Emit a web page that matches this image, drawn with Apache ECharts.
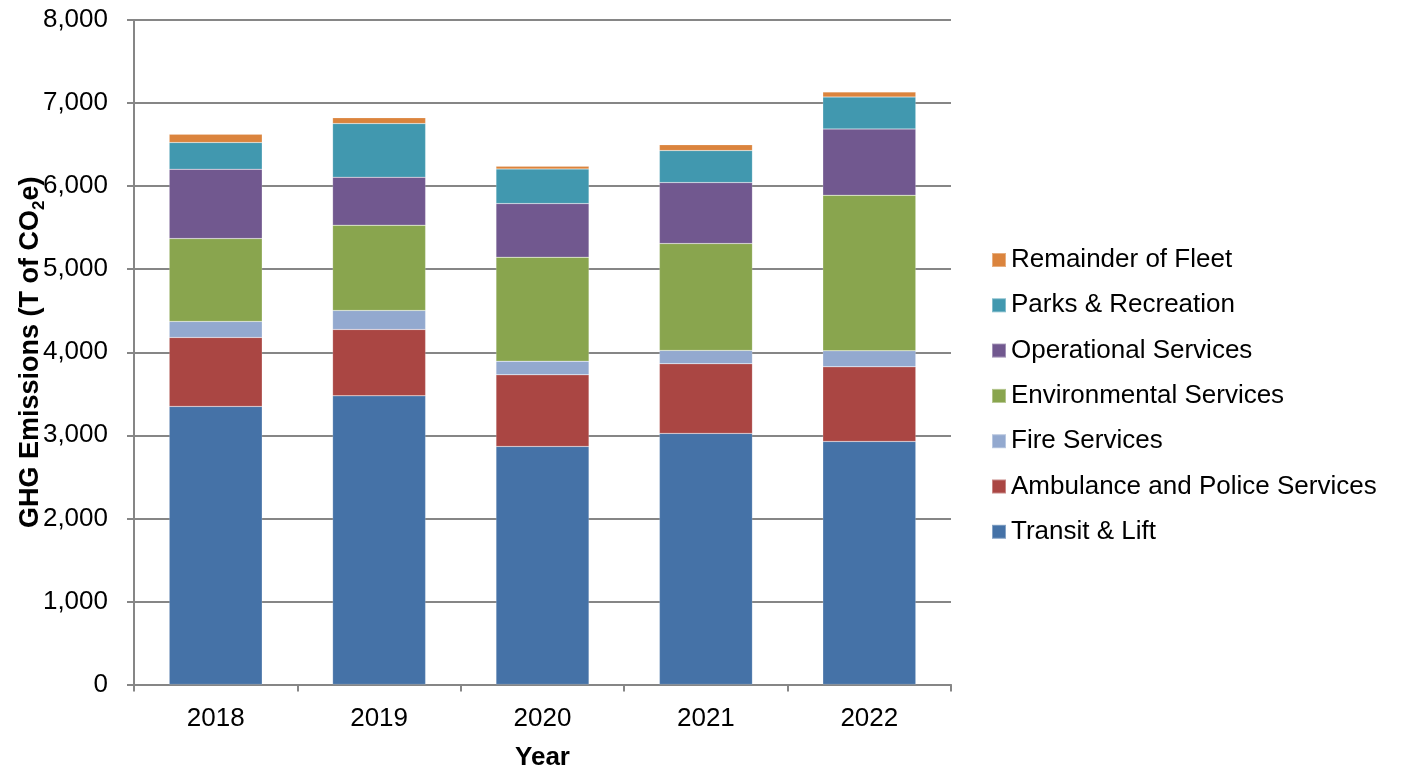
<!DOCTYPE html>
<html>
<head>
<meta charset="utf-8">
<script src="https://cdn.jsdelivr.net/npm/echarts@6/dist/echarts.min.js"></script>
<style>
  html, body { margin: 0; padding: 0; background: #ffffff; }
  #chart { width: 1406px; height: 771px; }
</style>
</head>
<body>
<div id="chart"></div>
<script>
// Fleet GHG emissions by service area, tonnes CO2e
const years = ['2018', '2019', '2020', '2021', '2022'];
const transitLift        = [3348, 3475, 2866, 3023, 2926];
const ambulancePolice    = [830, 799, 862, 838, 898];
const fireServices       = [193, 229, 165, 161, 193];
const environmental      = [998, 1027, 1251, 1287, 1873];
const operational        = [834, 577, 646, 734, 798];
const parksRecreation    = [322, 646, 417, 385, 385];
const remainderOfFleet   = [100, 70, 32, 70, 61];
const yTicks = { min: 0, max: 8000, interval: 1000 };

const seriesDefs = [
  { name: 'Transit & Lift', data: transitLift, color: '#4572A7' },
  { name: 'Ambulance and Police Services', data: ambulancePolice, color: '#AA4643' },
  { name: 'Fire Services', data: fireServices, color: '#93A9CF' },
  { name: 'Environmental Services', data: environmental, color: '#89A54E' },
  { name: 'Operational Services', data: operational, color: '#71588F' },
  { name: 'Parks & Recreation', data: parksRecreation, color: '#4198AF' },
  { name: 'Remainder of Fleet', data: remainderOfFleet, color: '#DB843D' }
];

const FONT = "'Liberation Sans', Arial, sans-serif";
const GRID_COLOR = '#868686';

const chart = echarts.init(document.getElementById('chart'), null, { renderer: 'canvas' });

chart.setOption({
  animation: false,
  backgroundColor: '#ffffff',
  textStyle: { fontFamily: FONT, color: '#000000' },
  grid: {
    left: 134, right: 455, top: 20, bottom: 86.5,
    containLabel: false,
    outerBoundsMode: 'none'
  },
  legend: {
    orient: 'vertical',
    left: 991,
    top: 247,
    padding: 0,
    icon: 'rect',
    itemWidth: 14,
    itemHeight: 14,
    itemGap: 19.3,
    data: seriesDefs.map(s => s.name).reverse(),
    textStyle: { fontFamily: FONT, fontSize: 26, lineHeight: 26, color: '#000000' }
  },
  xAxis: {
    type: 'category',
    data: years,
    name: 'Year',
    nameLocation: 'middle',
    nameGap: 60,
    nameMoveOverlap: false,
    nameTextStyle: { fontFamily: FONT, fontSize: 26, fontWeight: 'bold', color: '#000000' },
    axisLine: { lineStyle: { color: GRID_COLOR, width: 2 } },
    axisTick: { show: true, length: 7, lineStyle: { color: GRID_COLOR, width: 2 } },
    axisLabel: { fontFamily: FONT, fontSize: 26, color: '#000000', margin: 21 }
  },
  yAxis: {
    type: 'value',
    min: yTicks.min,
    max: yTicks.max,
    interval: yTicks.interval,
    name: '{a|GHG Emissions (T of CO}{s|2}{a|e)}',
    nameLocation: 'middle',
    nameGap: 88,
    nameMoveOverlap: false,
    nameTextStyle: {
      rich: {
        a: { fontFamily: FONT, fontSize: 27, fontWeight: 'bold', color: '#000000', lineHeight: 30 },
        s: { fontFamily: FONT, fontSize: 17, fontWeight: 'bold', color: '#000000', lineHeight: 17, verticalAlign: 'bottom', padding: [0, 0, -2, 0] }
      }
    },
    axisLine: { show: true, lineStyle: { color: GRID_COLOR, width: 2 } },
    axisTick: { show: true, length: 7, lineStyle: { color: GRID_COLOR, width: 2 } },
    splitLine: { show: true, lineStyle: { color: GRID_COLOR, width: 2 } },
    axisLabel: {
      fontFamily: FONT, fontSize: 26, color: '#000000', margin: 26,
      formatter: v => v.toLocaleString('en-US')
    }
  },
  series: seriesDefs.map(s => ({
    name: s.name,
    type: 'bar',
    stack: 'total',
    barWidth: 93,
    data: s.data,
    itemStyle: { color: s.color, borderColor: 'rgba(255,255,255,0.35)', borderWidth: 0.5 },
    emphasis: { disabled: true }
  }))
});
</script>
</body>
</html>
